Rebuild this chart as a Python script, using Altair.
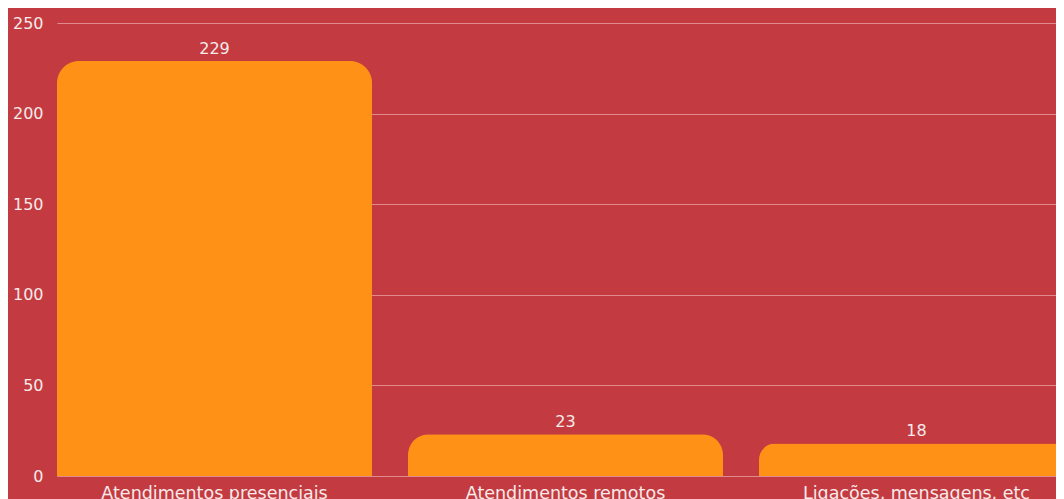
import altair as alt
import pandas as pd

categories = ["Atendimentos presenciais", "Atendimentos remotos", "Ligações, mensagens, etc"]
values = [229, 23, 18]

df = pd.DataFrame({"categoria": categories, "valor": values})

FONT = "DejaVu Sans"
TXT = "#f7eaea"

base = alt.Chart(df).encode(
    x=alt.X("categoria:N", sort=categories,
            scale=alt.Scale(paddingInner=0.1025, paddingOuter=0, range=[0, 1017]),
            axis=alt.Axis(title=None, labelAngle=0, labelFontSize=17.5, labelColor=TXT,
                          labelFont=FONT, ticks=False, domain=True, labelLimit=0,
                          domainColor="#e08a8d", domainWidth=1, labelPadding=8,
                          grid=False)),
    y=alt.Y("valor:Q", scale=alt.Scale(domain=[0, 250]),
            axis=alt.Axis(title=None, values=[0, 50, 100, 150, 200, 250], labelFontSize=16,
                          labelColor=TXT, labelFont=FONT, ticks=False, domain=False,
                          gridColor="#e08a8d", gridWidth=1, labelPadding=14)),
)

bars = base.mark_bar(color="#ff9117", cornerRadiusTopLeft=22, cornerRadiusTopRight=22)
labels = base.mark_text(dy=-12, fontSize=16, color=TXT, font=FONT).encode(text="valor:Q")

chart = (bars + labels).properties(
    width=999, height=453, background="#c33b41",
    autosize=alt.AutoSizeParams(type="none"),
    padding={"left": 49, "top": 15, "right": 0, "bottom": 40},
).configure_view(stroke=None)

chart.save("out.html", embed_options={"renderer": "svg", "actions": False})
